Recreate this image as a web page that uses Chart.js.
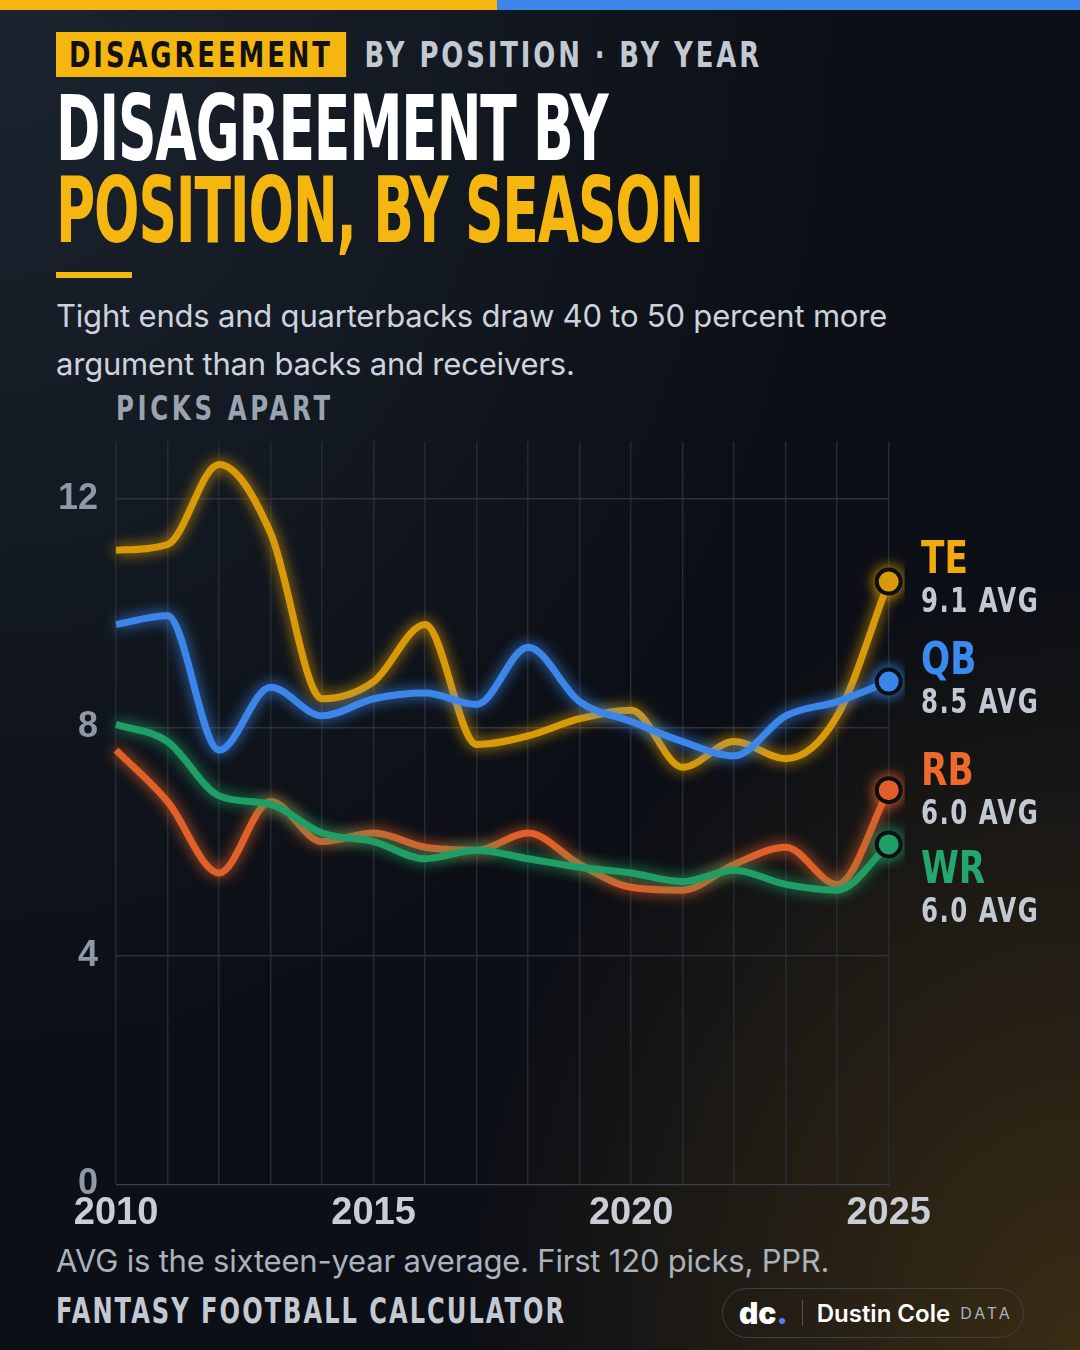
<!DOCTYPE html>
<html>
<head>
<meta charset="utf-8">
<script src="https://cdn.jsdelivr.net/npm/chart.js@4"></script>
<style>
  html, body { margin: 0; padding: 0; }
  body {
    width: 1080px; height: 1350px; overflow: hidden; position: relative;
    background: radial-gradient(ellipse at 0% 0%, #1b2430 0%, rgba(13,16,22,0) 55%),
                radial-gradient(ellipse at 100% 100%, #3a2c14 0%, rgba(13,16,22,0) 40%),
                #0c0f15;
    font-family: Inter, "Noto Sans", sans-serif; color: #fff;
  }
  .cond { font-family: "DejaVu Sans", sans-serif; font-weight: bold; transform-origin: left top; white-space: nowrap; }
  #barY { position: absolute; left: 0; top: 0; width: 497px; height: 10px; background: #f5b70f; }
  #barB { position: absolute; left: 497px; top: 0; width: 583px; height: 10px; background: #3b86e8; }
  #kicker { position: absolute; left: 56px; top: 34px; font-size: 36px; letter-spacing: 4px; color: #c3c9d3; transform: scaleX(0.72); }
  #kicker span.tag { background: #f5b70f; color: #111; padding: 2px 18px; margin-right: 26px; }
  #title { position: absolute; left: 56px; top: 88px; font-size: 90px; line-height: 82px; letter-spacing: -2px; transform: scaleX(0.595); }
  #title .y { color: #f5b70f; }
  #rule { position: absolute; left: 56px; top: 272px; width: 76px; height: 6px; background: #f5b70f; }
  #sub { position: absolute; left: 56px; top: 292px; font-size: 31px; line-height: 48px; color: #cdd3dc; width: 900px; letter-spacing: -0.2px; }
  #ylab { position: absolute; left: 116px; top: 388px; font-size: 34px; letter-spacing: 5px; color: #9aa3af; transform: scaleX(0.72); }
  #wrap { position: absolute; left: 40px; top: 402px; width: 897px; height: 840px; }
  .lab { position: absolute; left: 921px; font-size: 44px; line-height: 44px; transform: scaleX(0.78); }
  .avg { position: absolute; left: 921px; font-size: 34px; letter-spacing: 2px; color: #c3c9d3; transform: scaleX(0.72); }
  #foot { position: absolute; left: 56px; top: 1242px; font-size: 31px; color: #aab2bd; letter-spacing: -0.2px; }
  #brand { position: absolute; left: 56px; top: 1290px; font-size: 36px; letter-spacing: 3px; color: #c3c9d3; transform: scaleX(0.67); }
  #logo { position: absolute; left: 722px; top: 1288px; width: 300px; height: 48px; border: 1px solid #3a3f48; border-radius: 26px;
          font-size: 24px; display: flex; align-items: center; }
</style>
</head>
<body>
<div id="barY"></div><div id="barB"></div>
<div id="kicker" class="cond"><span class="tag">DISAGREEMENT</span>BY POSITION · BY YEAR</div>
<div id="title" class="cond">DISAGREEMENT BY<br><span class="y">POSITION, BY SEASON</span></div>
<div id="rule"></div>
<div id="sub">Tight ends and quarterbacks draw 40 to 50 percent more argument than backs and receivers.</div>
<div id="ylab" class="cond">PICKS APART</div>
<div id="wrap"><canvas id="chart"></canvas></div>

<div class="lab cond" style="top:536px;color:#f0a90e">TE</div>
<div class="avg cond" style="top:580px">9.1 AVG</div>
<div class="lab cond" style="top:637px;color:#3b8bef">QB</div>
<div class="avg cond" style="top:681px">8.5 AVG</div>
<div class="lab cond" style="top:748px;color:#ee6a2c">RB</div>
<div class="avg cond" style="top:792px">6.0 AVG</div>
<div class="lab cond" style="top:846px;color:#22a86c">WR</div>
<div class="avg cond" style="top:890px">6.0 AVG</div>

<div id="foot">AVG is the sixteen-year average. First 120 picks, PPR.</div>
<div id="brand" class="cond">FANTASY FOOTBALL CALCULATOR</div>
<div id="logo">
  <span style="font-weight:900;font-size:30px;margin-left:16px">dc<span style="color:#5b7bf0">.</span></span>
  <span style="border-left:1px solid #555;height:26px;margin:0 14px"></span>
  <span style="font-weight:600">Dustin Cole</span>
  <span style="font-size:16px;letter-spacing:3px;color:#aab2bd;margin-left:10px">DATA</span>
</div>

<script>
const years = ["2010","2011","2012","2013","2014","2015","2016","2017","2018","2019","2020","2021","2022","2023","2024","2025"];
const teValues = [11.1, 11.2, 12.6, 11.4, 8.5, 8.8, 9.8, 7.7, 7.85, 8.15, 8.3, 7.3, 7.75, 7.45, 8.2, 10.55];
const qbValues = [9.8, 9.95, 7.6, 8.7, 8.2, 8.5, 8.6, 8.4, 9.4, 8.45, 8.1, 7.75, 7.5, 8.2, 8.45, 8.8];
const rbValues = [7.6, 6.7, 5.45, 6.7, 6.0, 6.15, 5.9, 5.85, 6.15, 5.6, 5.2, 5.15, 5.6, 5.9, 5.25, 6.9];
const wrValues = [8.05, 7.75, 6.8, 6.65, 6.15, 6.0, 5.7, 5.85, 5.7, 5.55, 5.45, 5.3, 5.5, 5.25, 5.15, 5.95];
const xTicks = ["2010", "2015", "2020", "2025"];
const yTicks = [0, 4, 8, 12];

const tickFont = "'Liberation Sans Narrow', 'Liberation Sans', sans-serif";

function series(label, data, color) {
  const last = data.length - 1;
  return {
    label, data,
    borderColor: color, backgroundColor: color,
    borderWidth: 7, tension: 0.4, cubicInterpolationMode: "monotone",
    pointRadius: data.map((_, i) => (i === last ? 12 : 0)),
    pointBorderWidth: 4, pointBorderColor: "#0c0f15",
    pointBackgroundColor: color,
  };
}

const glow = {
  id: "glow",
  beforeDatasetDraw(chart, args) {
    const ctx = chart.ctx;
    ctx.save();
    ctx.shadowColor = args.meta.dataset.options.borderColor;
    ctx.shadowBlur = 14;
  },
  afterDatasetDraw(chart) {
    chart.ctx.restore();
  },
};

new Chart(document.getElementById("chart"), {
  type: "line",
  data: {
    labels: years,
    datasets: [
      series("WR", wrValues, "#1f9e66"),
      series("RB", rbValues, "#e0602a"),
      series("QB", qbValues, "#3b86e8"),
      series("TE", teValues, "#d99a0a"),
    ],
  },
  options: {
    responsive: true, maintainAspectRatio: false, animation: false,
    layout: { padding: { top: 10, right: 4, left: 0, bottom: 0 } },
    plugins: { legend: { display: false }, tooltip: { enabled: false } },
    scales: {
      x: {
        offset: false,
        grid: { color: "#252a33", lineWidth: 1.5, drawTicks: false },
        border: { color: "#3a3f48" },
        ticks: {
          autoSkip: false, maxRotation: 0, padding: 6,
          color: "#c9ced6", font: { family: tickFont, size: 38, weight: "bold" },
          callback: (v, i) => (xTicks.includes(years[i]) ? years[i] : ""),
        },
      },
      y: {
        min: 0, max: 13,
        afterBuildTicks: (s) => { s.ticks = yTicks.map((v) => ({ value: v })); },
        grid: { color: (c) => (c.tick && yTicks.includes(c.tick.value) ? "#2c313a" : "transparent"), lineWidth: 1.5, drawTicks: false },
        border: { display: false },
        ticks: { color: "#8f98a5", padding: 18, font: { family: tickFont, size: 36, weight: "bold" } },
      },
    },
  },
  plugins: [glow],
});
</script>
</body>
</html>
